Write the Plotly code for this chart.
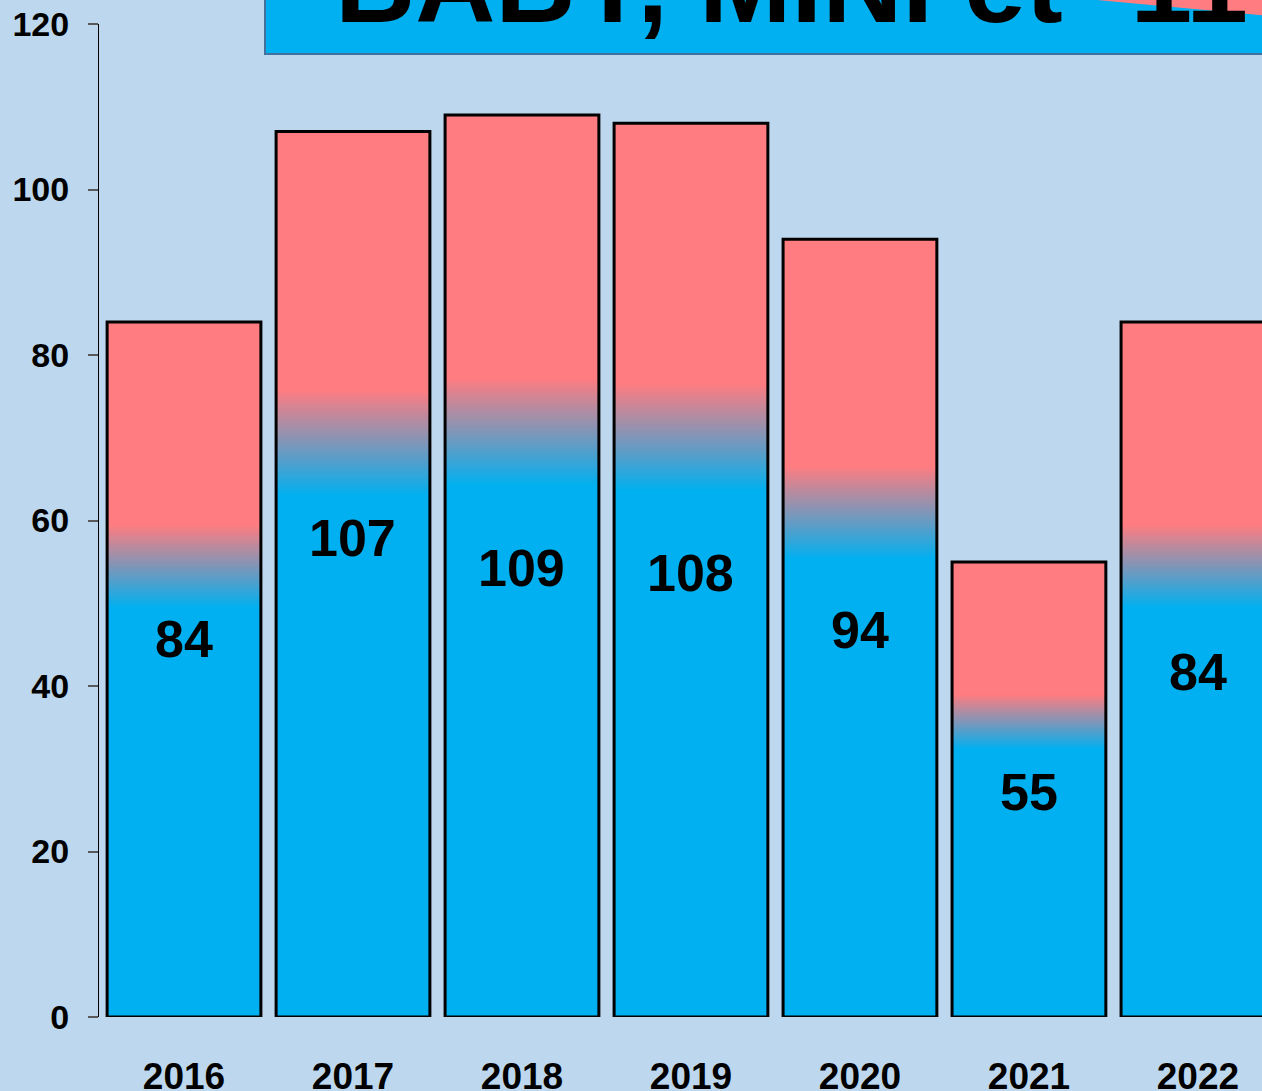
import plotly.graph_objects as go

years = ["2016", "2017", "2018", "2019", "2020", "2021", "2022"]
values = [84, 107, 109, 108, 94, 55, 84]
y_ticks = [0, 20, 40, 60, 80, 100, 120]
title_text = "BABY, MINI et -11"

# styling
BLUE = (0, 176, 240)
SALMON = (255, 124, 128)
BG = "#BDD7EE"
FONT = "Liberation Sans, Arial, sans-serif"
BAR_W = 0.91
GRAD_TOP = 0.71   # fraction of bar height where salmon ends
GRAD_BOT = 0.59   # fraction of bar height where blue starts
N_STEPS = 40
label_yshift = [30, 36, -2, -3, -2, -3, -3]

# plot-area geometry (pixels) used for paper-coordinate conversion
W, H = 1262, 1091
ML, MR, MT, MB = 99, 0, 24, 74
PW = W - ML - MR
PH = H - MT - MB


def px_x(p):
    return (p - ML) / PW


def px_y(p):
    return (H - MB - p) / PH


def rgb(c):
    return "rgb(%d,%d,%d)" % c


def mix(a, b, t):
    return tuple(round(a[i] + (b[i] - a[i]) * t) for i in range(3))


fig = go.Figure()

# full salmon bar
fig.add_trace(go.Bar(x=years, y=values, width=BAR_W,
                     marker=dict(color=rgb(SALMON), line=dict(width=0)),
                     hoverinfo="skip", showlegend=False))
# gradient steps (progressively shorter bars covering the lower part)
for k in range(N_STEPS + 1):
    t = k / N_STEPS
    f = GRAD_TOP - (GRAD_TOP - GRAD_BOT) * t
    col = mix(SALMON, BLUE, t)
    fig.add_trace(go.Bar(x=years, y=[v * f for v in values], width=BAR_W,
                         marker=dict(color=rgb(col), line=dict(width=0)),
                         hoverinfo="skip", showlegend=False))
# outline
fig.add_trace(go.Bar(x=years, y=values, width=BAR_W,
                     marker=dict(color="rgba(0,0,0,0)", line=dict(width=3, color="black")),
                     hoverinfo="skip", showlegend=False))

# value labels (x given as category index)
for i, (v, dy) in enumerate(zip(values, label_yshift)):
    fig.add_annotation(x=i, y=v / 2, text=str(v), showarrow=False, yshift=dy,
                       font=dict(family=FONT, size=52, color="black", weight="bold"))

# title box (partially off-screen)
fig.add_shape(type="rect", xref="paper", yref="paper",
              x0=px_x(265), x1=px_x(1300), y0=px_y(54), y1=px_y(-60),
              fillcolor=rgb(BLUE), line=dict(color="#41719C", width=2), layer="above")
fig.add_shape(type="path", xref="paper", yref="paper",
              path="M %f %f L %f %f L %f %f Z" % (px_x(1097), px_y(0), px_x(1270), px_y(0),
                                                   px_x(1270), px_y(16)),
              fillcolor=rgb(SALMON), line=dict(width=0), layer="above")
fig.add_annotation(xref="paper", yref="paper", x=px_x(333), y=px_y(48),
                   xanchor="left", yanchor="bottom", text=title_text, showarrow=False,
                   font=dict(family=FONT, size=111, color="black", weight="bold"))

fig.update_layout(
    width=W, height=H,
    margin=dict(l=ML, r=MR, t=MT, b=MB, autoexpand=False),
    paper_bgcolor=BG, plot_bgcolor=BG,
    barmode="overlay",
    showlegend=False,
    xaxis=dict(type="category", range=[-0.503, 6.379], showline=False, showgrid=False,
               ticks="", zeroline=False, ticklabelstandoff=34, automargin=False,
               tickfont=dict(family=FONT, size=37, color="black", weight="bold")),
    yaxis=dict(range=[0, 120], tickvals=y_ticks, showgrid=False, zeroline=False,
               showline=True, linecolor="black", linewidth=1, automargin=False,
               ticks="outside", ticklen=10, tickcolor="#595959", tickwidth=2,
               ticklabelstandoff=12,
               tickfont=dict(family=FONT, size=34, color="black", weight="bold")),
)

fig.write_html("out.html", config={"displayModeBar": False},
               post_script="document.body.style.margin='0';document.body.style.overflow='hidden';")
